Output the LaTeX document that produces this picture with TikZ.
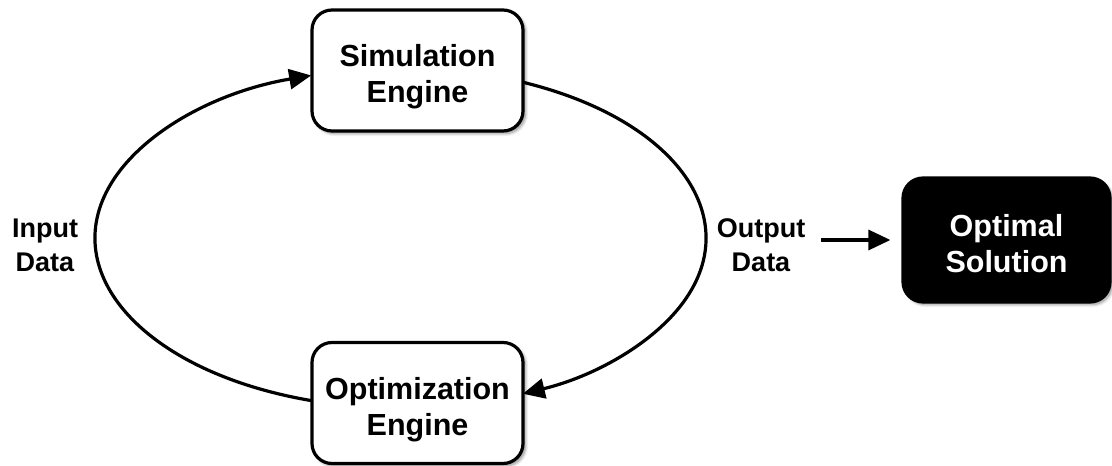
\documentclass[tikz,border=0pt]{standalone}
\usepackage{fontspec}
\setmainfont{Liberation Sans}
\usetikzlibrary{arrows.meta,shadows.blur,calc}
% two centred lines, set a little below the box centre
\newcommand{\boxtext}[2]{\raisebox{-7pt}[\height][\depth]{\begin{tabular}{@{}c@{}}#1\\#2\end{tabular}}}
\begin{document}
\begin{tikzpicture}[x=1pt,y=1pt,
  engine/.style={draw=black, line width=3.2pt, rounded corners=20pt, fill=white,
    minimum width=211pt, minimum height=121pt, align=center,
    font=\fontsize{30.5}{36}\selectfont\bfseries,
    blur shadow={shadow xshift=2.5pt, shadow yshift=-2.5pt, shadow blur radius=3pt, shadow blur steps=6, shadow opacity=45}},
  result/.style={engine, fill=black, text=white, minimum width=207pt, minimum height=124pt},
  lbl/.style={align=center, inner sep=6pt, font=\fontsize{27}{34}\selectfont\bfseries},
  flow/.style={line width=3.2pt, -{Triangle[length=22pt,width=20pt]}}]
\useasboundingbox (0,0) rectangle (1112,466);

% centre of the elliptical loop
\coordinate (ctr) at (400.5,228);
\coordinate (simout) at ($(ctr)+(66.4:305.5 and 170)$);
\coordinate (optout) at ($(ctr)+(253:305.5 and 170)$);

% the loop, drawn first so the boxes sit on top
\draw[flow] (simout) arc[start angle=66.4, end angle=-66.4, x radius=305.5, y radius=170];
\draw[flow] (optout) arc[start angle=253, end angle=107, x radius=305.5, y radius=170];

\node[engine] (sim) at (417.5,395.5) {\boxtext{Simulation}{Engine}};
\node[engine] (opt) at (417.5,63) {\boxtext{Optimization}{Engine}};
\node[result] (sol) at (1006.5,226) {\boxtext{Optimal}{Solution}};

\node[lbl] (inlbl) at (45,221) {Input\\Data};
\node[lbl] (outlbl) at (761,221) {Output\\Data};

\coordinate (arrstart) at ([xshift=10pt]outlbl.east |- sol.west);
\draw[flow] (arrstart) -- ([xshift=-11pt]sol.west);
\end{tikzpicture}
\end{document}
